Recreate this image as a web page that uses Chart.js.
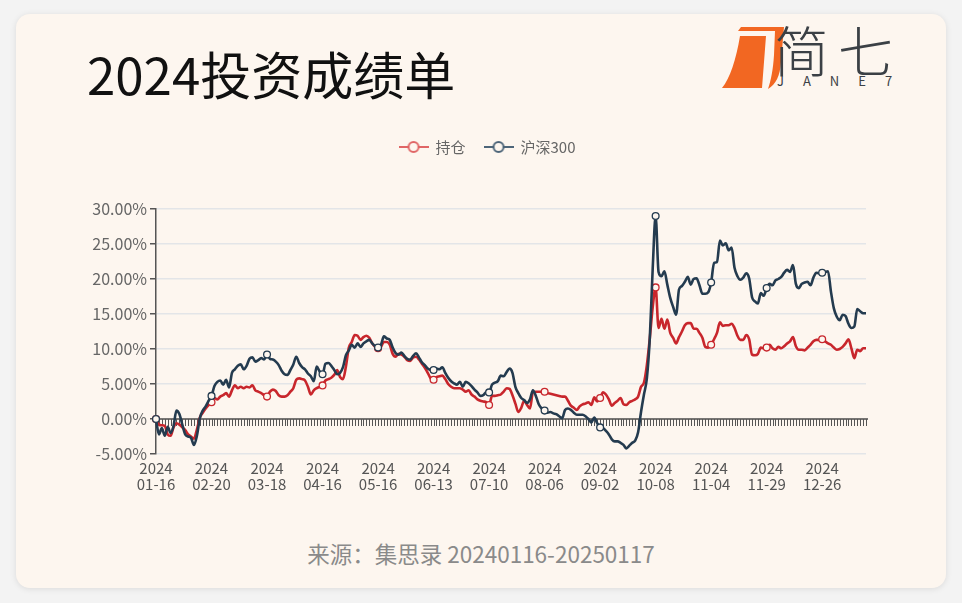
<!DOCTYPE html>
<html lang="zh-CN">
<head>
<meta charset="utf-8">
<title>2024投资成绩单</title>
<script src="https://cdn.jsdelivr.net/npm/chart.js@4.4.1/dist/chart.umd.min.js"></script>
<style>
  html, body { margin: 0; padding: 0; }
  body {
    width: 962px; height: 603px; position: relative; overflow: hidden;
    background: #f3f3f3;
    font-family: "Noto Sans CJK SC", "Noto Sans", sans-serif;
  }
  .card {
    position: absolute; left: 16px; top: 14px; width: 930px; height: 574px;
    background: #fdf6ef; border-radius: 14px;
    box-shadow: 0 1px 6px rgba(0, 0, 0, 0.10);
  }
  .title { position: absolute; left: 87px; top: 43px; font-size: 51px; line-height: 60px; color: #111; }
  .logo { position: absolute; left: 0; top: 0; }
  .brand { position: absolute; left: 774px; top: 14px; font-size: 55px; line-height: 68px; color: #3b4045; font-weight: 300; letter-spacing: 9px; }
  .jane { position: absolute; left: 777px; top: 73px; font-size: 13px; line-height: 16px; letter-spacing: 19px; color: #3b4045; }
  .wrap { position: absolute; left: 16px; top: 122px; width: 942px; height: 388px; }
  .source { position: absolute; left: 0; top: 538px; width: 962px; text-align: center; font-size: 22.5px; line-height: 30px; color: #8a8a8a; }
</style>
</head>
<body>
<div class="card"></div>
<div class="title">2024投资成绩单</div>
<svg class="logo" width="962" height="120">
  <path d="M740 36 L766 36 L762 88 L722 88 C730 78 736 60 740 36 Z" fill="#f26722"/>
  <path d="M738 31 L741 27 L784 27 L781 62 C780 76 776 84 768 89 C771 80 773 70 774 55 L775 31 Z" fill="#f26722"/>
</svg>
<div class="brand">简七</div>
<div class="jane">JANE7</div>
<div class="wrap"><canvas id="chart"></canvas></div>
<div class="source">来源：集思录 20240116-20250117</div>

<script>
// 交易日
const dates = [
  "2024-01-16","2024-01-17","2024-01-18","2024-01-19","2024-01-22","2024-01-23","2024-01-24","2024-01-25","2024-01-26","2024-01-29","2024-01-30","2024-01-31",
  "2024-02-01","2024-02-02","2024-02-05","2024-02-06","2024-02-07","2024-02-08","2024-02-19","2024-02-20","2024-02-21","2024-02-22","2024-02-23","2024-02-26","2024-02-27","2024-02-28","2024-02-29",
  "2024-03-01","2024-03-04","2024-03-05","2024-03-06","2024-03-07","2024-03-08","2024-03-11","2024-03-12","2024-03-13","2024-03-14","2024-03-15","2024-03-18","2024-03-19","2024-03-20","2024-03-21","2024-03-22","2024-03-25","2024-03-26","2024-03-27","2024-03-28","2024-03-29",
  "2024-04-01","2024-04-02","2024-04-03","2024-04-08","2024-04-09","2024-04-10","2024-04-11","2024-04-12","2024-04-15","2024-04-16","2024-04-17","2024-04-18","2024-04-19","2024-04-22","2024-04-23","2024-04-24","2024-04-25","2024-04-26","2024-04-29","2024-04-30",
  "2024-05-06","2024-05-07","2024-05-08","2024-05-09","2024-05-10","2024-05-13","2024-05-14","2024-05-15","2024-05-16","2024-05-17","2024-05-20","2024-05-21","2024-05-22","2024-05-23","2024-05-24","2024-05-27","2024-05-28","2024-05-29","2024-05-30","2024-05-31",
  "2024-06-03","2024-06-04","2024-06-05","2024-06-06","2024-06-07","2024-06-11","2024-06-12","2024-06-13","2024-06-14","2024-06-17","2024-06-18","2024-06-19","2024-06-20","2024-06-21","2024-06-24","2024-06-25","2024-06-26","2024-06-27","2024-06-28",
  "2024-07-01","2024-07-02","2024-07-03","2024-07-04","2024-07-05","2024-07-08","2024-07-09","2024-07-10","2024-07-11","2024-07-12","2024-07-15","2024-07-16","2024-07-17","2024-07-18","2024-07-19","2024-07-22","2024-07-23","2024-07-24","2024-07-25","2024-07-26","2024-07-29","2024-07-30","2024-07-31",
  "2024-08-01","2024-08-02","2024-08-05","2024-08-06","2024-08-07","2024-08-08","2024-08-09","2024-08-12","2024-08-13","2024-08-14","2024-08-15","2024-08-16","2024-08-19","2024-08-20","2024-08-21","2024-08-22","2024-08-23","2024-08-26","2024-08-27","2024-08-28","2024-08-29","2024-08-30",
  "2024-09-02","2024-09-03","2024-09-04","2024-09-05","2024-09-06","2024-09-09","2024-09-10","2024-09-11","2024-09-12","2024-09-13","2024-09-18","2024-09-19","2024-09-20","2024-09-23","2024-09-24","2024-09-25","2024-09-26","2024-09-27","2024-09-30",
  "2024-10-08","2024-10-09","2024-10-10","2024-10-11","2024-10-14","2024-10-15","2024-10-16","2024-10-17","2024-10-18","2024-10-21","2024-10-22","2024-10-23","2024-10-24","2024-10-25","2024-10-28","2024-10-29","2024-10-30","2024-10-31",
  "2024-11-01","2024-11-04","2024-11-05","2024-11-06","2024-11-07","2024-11-08","2024-11-11","2024-11-12","2024-11-13","2024-11-14","2024-11-15","2024-11-18","2024-11-19","2024-11-20","2024-11-21","2024-11-22","2024-11-25","2024-11-26","2024-11-27","2024-11-28","2024-11-29",
  "2024-12-02","2024-12-03","2024-12-04","2024-12-05","2024-12-06","2024-12-09","2024-12-10","2024-12-11","2024-12-12","2024-12-13","2024-12-16","2024-12-17","2024-12-18","2024-12-19","2024-12-20","2024-12-23","2024-12-24","2024-12-25","2024-12-26","2024-12-27","2024-12-30","2024-12-31",
  "2025-01-02","2025-01-03","2025-01-06","2025-01-07","2025-01-08","2025-01-09","2025-01-10","2025-01-13","2025-01-14","2025-01-15","2025-01-16","2025-01-17"
];

// 持仓 累计收益 (%)
const holding = [
  0, -0.8, -0.9, -1.0, -2.2, -2.4, -1.2, -0.6, -0.8, -1.2,
  -1.6, -2.2, -2.5, -2.8, -1.5, 0.2, 0.9, 1.5, 2.0, 2.4,
  3.0, 2.8, 3.2, 3.4, 3.7, 3.2, 4.1, 4.8, 4.4, 4.6,
  4.4, 4.6, 4.5, 4.8, 4.1, 3.9, 3.7, 3.4, 3.2, 3.9,
  4.2, 4.0, 3.4, 3.2, 3.2, 3.4, 3.9, 4.4, 5.6, 5.8,
  5.7, 5.5, 4.6, 3.5, 4.1, 4.4, 4.6, 4.8, 5.5, 5.7,
  5.9, 6.3, 7.0, 6.0, 5.7, 7.5, 10.2, 11.0, 12.0, 11.9,
  11.3, 11.7, 11.9, 11.6, 10.8, 10.3, 10.1, 10.3, 11.0, 11.0,
  10.6, 9.3, 8.9, 9.3, 9.2, 8.9, 8.4, 8.3, 8.8, 8.9,
  8.5, 7.9, 7.3, 6.6, 5.8, 5.6, 6.0, 6.1, 6.2, 5.7,
  5.0, 4.6, 4.4, 4.4, 4.4, 4.2, 3.9, 4.1, 3.5, 3.2,
  2.8, 2.6, 2.5, 2.4, 2.0, 3.3, 3.3, 3.4, 3.5, 3.9,
  4.4, 4.3, 3.4, 2.2, 1.0, 1.6, 2.6, 2.0, 1.5, 3.8,
  3.9, 3.9, 3.9, 3.9, 3.7, 3.6, 3.5, 3.4, 3.3, 3.2,
  3.2, 2.6, 1.9, 1.6, 1.3, 1.8, 2.1, 2.2, 2.4, 2.0,
  3.1, 2.5, 3.0, 3.8, 3.5, 2.8, 1.9, 2.3, 2.6, 3.0,
  2.1, 2.0, 2.4, 2.6, 2.8, 3.2, 4.6, 5.2, 7.7, 11.5,
  16.0, 18.8, 13.0, 14.3, 12.9, 14.2, 12.3, 11.6, 10.8, 11.7,
  12.5, 13.4, 13.7, 13.7, 12.9, 12.9, 12.3, 11.6, 10.3, 10.2,
  10.6, 11.4, 12.3, 13.8, 13.3, 13.4, 13.4, 13.6, 13.0, 11.9,
  11.3, 11.3, 12.0, 11.4, 9.2, 9.1, 9.3, 10.2, 10.1, 10.2,
  10.6, 10.1, 9.9, 10.3, 10.1, 10.4, 10.8, 11.1, 11.7, 10.4,
  9.9, 9.9, 9.8, 10.2, 10.6, 11.1, 11.3, 11.3, 11.4, 11.1,
  10.8, 10.6, 10.2, 9.9, 10.0, 10.3, 10.8, 11.4, 10.1, 8.7,
  9.9, 9.7, 10.1, 10.1
];

// 沪深300 累计涨跌 (%)
const hs300 = [
  0, -2.2, -1.3, -2.4, -1.1, -2.0, -1.0, 1.2, 0.7, -0.8,
  -2.2, -2.5, -2.7, -3.7, -2.4, 0.1, 1.2, 1.8, 2.6, 3.3,
  4.7, 5.3, 5.5, 4.9, 5.6, 4.5, 6.6, 7.1, 7.6, 7.8,
  7.1, 7.6, 8.6, 8.8, 8.2, 8.4, 8.7, 8.5, 9.2, 8.6,
  8.5, 8.2, 7.7, 6.9, 6.4, 6.3, 7.0, 7.8, 8.9, 8.0,
  7.4, 7.1, 6.5, 6.1, 5.4, 7.5, 6.8, 6.4, 7.9, 8.0,
  7.6, 7.0, 6.4, 6.6, 7.4, 9.1, 9.8, 10.6, 10.2, 10.8,
  10.3, 10.8, 11.1, 11.3, 10.8, 10.4, 10.2, 10.6, 11.8, 11.5,
  11.3, 10.2, 9.4, 9.2, 9.5, 9.0, 8.6, 8.5, 9.0, 9.4,
  8.8, 8.1, 7.7, 7.2, 7.0, 7.0, 7.2, 7.1, 7.4, 6.6,
  5.9, 5.4, 5.1, 4.9, 5.3, 4.6, 5.3, 5.1, 4.7, 4.2,
  3.8, 3.3, 3.4, 3.8, 3.8, 4.9, 5.2, 5.4, 6.2, 6.1,
  6.7, 7.2, 6.6, 4.6, 3.7, 3.0, 2.7, 2.3, 2.8, 4.1,
  3.3, 2.1, 1.5, 1.2, 0.9, 1.0, 0.8, 0.7, 0.4, 0.1,
  1.3, 1.5, 1.3, 0.9, 0.6, 0.6, 0.6, 0.4, 0.0, -0.5,
  0.2, -0.6, -1.2, -1.3, -1.7, -2.2, -2.9, -3.2, -3.2, -3.4,
  -3.7, -4.2, -3.8, -3.4, -3.1, -1.9, 1.0, 3.5, 5.8, 11.5,
  21.5, 29.0, 21.0, 20.4, 21.1, 19.2, 17.3, 16.0, 14.9, 18.5,
  19.0, 19.6, 20.3, 19.2, 20.0, 20.1, 19.1, 17.9, 17.9, 18.1,
  19.5, 22.3, 22.4, 25.5, 24.8, 25.1, 24.1, 24.5, 21.6, 20.4,
  19.9, 20.2, 20.8, 20.1, 17.4, 16.8, 16.5, 18.0, 17.6, 18.7,
  19.3, 19.1, 19.8, 20.0, 20.3, 20.9, 21.3, 21.0, 22.0, 19.3,
  18.7, 19.3, 19.5, 19.6, 19.1, 20.2, 20.9, 20.8, 20.9, 21.0,
  21.1, 18.2, 15.8, 14.6, 14.1, 14.9, 14.7, 13.6, 13.0, 13.2,
  15.7, 15.4, 15.1, 15.1
];

// x轴显示的日期
const tickDates = [
  "2024-01-16","2024-02-20","2024-03-18","2024-04-16","2024-05-16","2024-06-13","2024-07-10",
  "2024-08-06","2024-09-02","2024-10-08","2024-11-04","2024-11-29","2024-12-26"
];

const RED = "#c8262c";
const NAVY = "#243b4f";
const BG = "#fdf6ef";
const FONT = '"Noto Sans CJK SC", "Noto Sans", sans-serif';

Chart.defaults.font.family = FONT;

const isTick = i => tickDates.includes(dates[i]);

// 图例小图标：线 + 空心圆
function legendIcon(color) {
    const c = document.createElement("canvas");
    c.width = 30; c.height = 14;
    const g = c.getContext("2d");
    g.strokeStyle = color;
    g.lineWidth = 2;
    g.beginPath(); g.moveTo(0, 7); g.lineTo(30, 7); g.stroke();
    g.beginPath(); g.arc(15, 7, 5, 0, Math.PI * 2);
    g.fillStyle = BG; g.fill(); g.stroke();
    return c;
}
const icons = [legendIcon("#e06666"), legendIcon("#4d6579")];

// 顶部图例（居中于整个画布）
const topLegend = {
    id: "topLegend",
    afterDraw(chart) {
        const ctx = chart.ctx;
        ctx.save();
        ctx.font = "15px " + FONT;
        ctx.textBaseline = "middle";
        const gap = 18;
        const items = chart.data.datasets.map((ds, i) => ({
            text: ds.label,
            icon: icons[i],
            w: 37 + ctx.measureText(ds.label).width
        }));
        const total = items.reduce((s, it) => s + it.w, 0) + gap * (items.length - 1);
        let x = chart.width / 2 - total / 2;
        const y = 25;
        items.forEach(it => {
            ctx.drawImage(it.icon, x, y - 7);
            ctx.fillStyle = "#666";
            ctx.fillText(it.text, x + 37, y);
            x += it.w + gap;
        });
        ctx.restore();
    }
};

// 0 轴线和刻度
const zeroAxis = {
    id: "zeroAxis",
    beforeDatasetsDraw(chart) {
        const { ctx, scales: { x, y } } = chart;
        const y0 = y.getPixelForValue(0);
        ctx.save();
        ctx.strokeStyle = "#4a4a4a";
        ctx.lineWidth = 1.6;
        ctx.beginPath();
        ctx.moveTo(x.left, y0);
        ctx.lineTo(x.right + 2, y0);
        ctx.stroke();
        ctx.lineWidth = 1;
        ctx.strokeStyle = "#555";
        ctx.beginPath();
        dates.forEach((d, i) => {
            const px = Math.round(x.getPixelForValue(i)) + 0.5;
            ctx.moveTo(px, y0);
            ctx.lineTo(px, y0 + 7);
        });
        ctx.stroke();
        ctx.restore();
    }
};

function lineSet(label, data, color, order) {
    return {
        label: label,
        data: data,
        borderColor: color,
        borderWidth: 2.6,
        cubicInterpolationMode: "monotone",
        pointRadius: ctx => isTick(ctx.dataIndex) ? 3.4 : 0,
        pointHoverRadius: 0,
        pointBackgroundColor: BG,
        pointBorderColor: color,
        pointBorderWidth: 1.3,
        clip: 8,
        order: order
    };
}

new Chart(document.getElementById("chart"), {
    type: "line",
    data: {
        labels: dates,
        datasets: [
            lineSet("持仓", holding, RED, 1),
            lineSet("沪深300", hs300, NAVY, 0)
        ]
    },
    options: {
        responsive: true,
        maintainAspectRatio: false,
        animation: false,
        layout: { padding: { top: 87, right: 92 } },
        plugins: {
            tooltip: { enabled: false },
            legend: { display: false }
        },
        scales: {
            x: {
                grid: { display: false, drawTicks: false },
                border: { display: false },
                ticks: {
                    autoSkip: false,
                    maxRotation: 0,
                    minRotation: 0,
                    padding: 6,
                    color: "#555",
                    font: { size: 15, lineHeight: 1.1 },
                    callback: (v, i) => isTick(i) ? [dates[i].slice(0, 4), dates[i].slice(5)] : ""
                },
                afterFit(scale) { scale.height = 56; }
            },
            y: {
                min: -5,
                max: 30,
                ticks: {
                    stepSize: 5,
                    padding: 3,
                    color: "#666",
                    font: { size: 16 },
                    callback: v => v.toFixed(2) + "%"
                },
                grid: {
                    color: ctx => ctx.tick && ctx.tick.value === 0 ? "rgba(0,0,0,0)" : "#e3e5e8",
                    lineWidth: 1.5,
                    tickColor: "#555",
                    tickLength: 6
                },
                border: { color: "#555", width: 1.5 },
                afterFit(scale) { scale.width = 140; }
            }
        }
    },
    plugins: [zeroAxis, topLegend]
});
</script>
</body>
</html>
